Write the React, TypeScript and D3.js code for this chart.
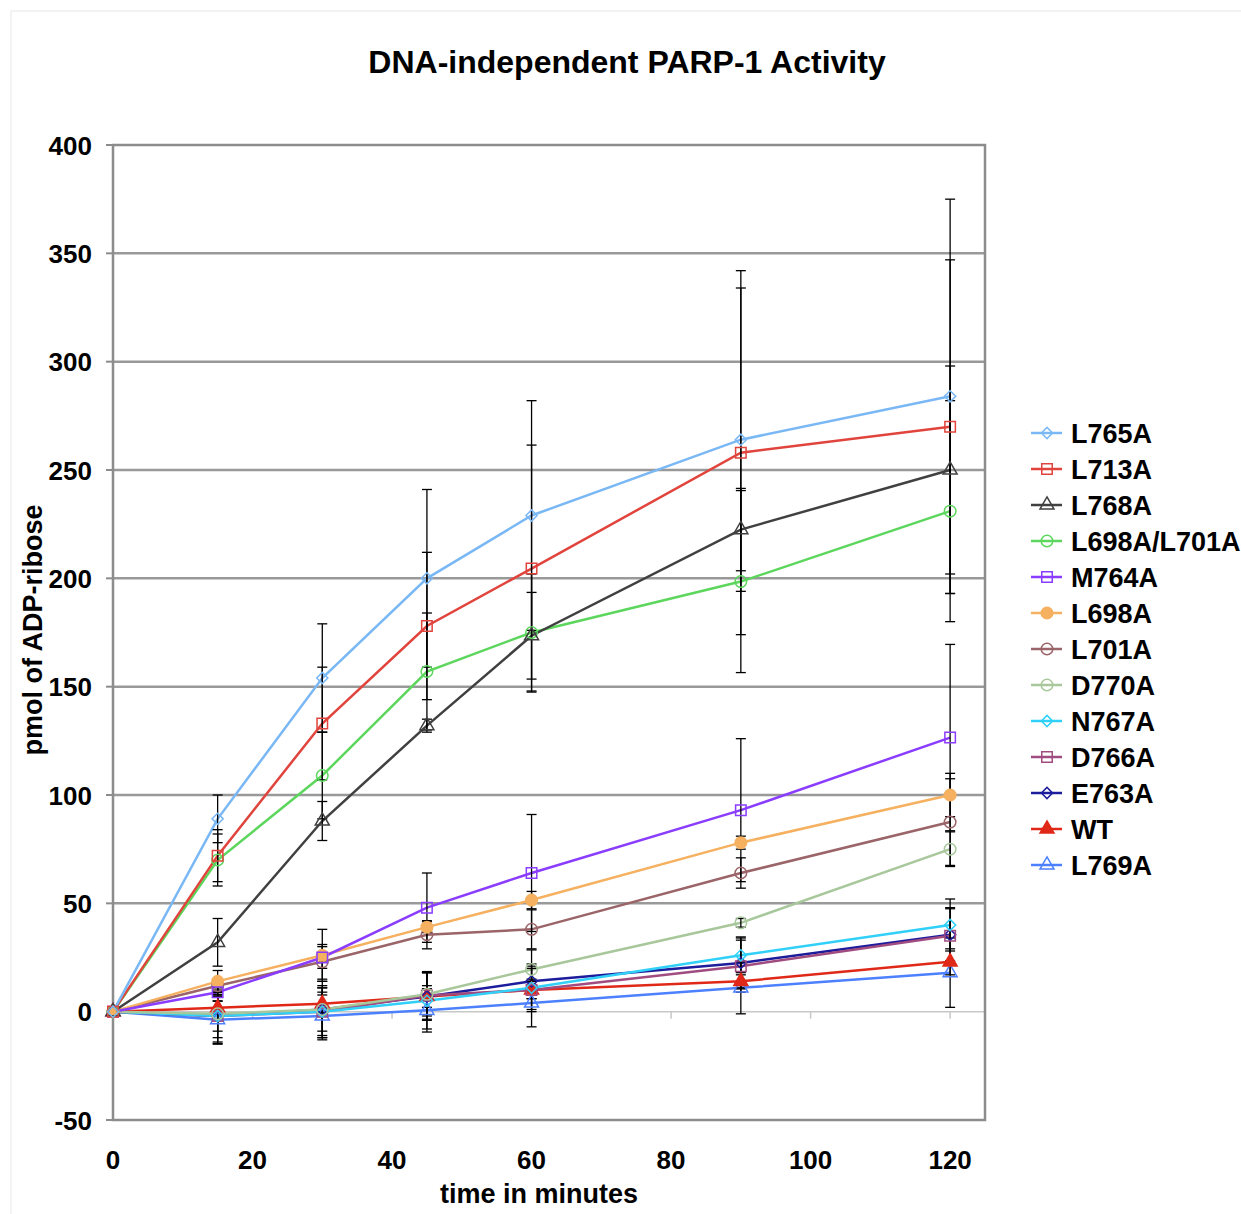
import React from "react";
import * as d3 from "d3";

// Sampling times (minutes)
const times = [0, 15, 30, 45, 60, 90, 120];

// Mean pmol ADP-ribose per construct
const L765A = [0, 89, 154, 200, 229, 264, 284];
const L713A = [0, 72, 133, 178, 204.5, 258, 270];
const L768A = [0, 32, 88, 132, 173.5, 222.5, 250];
const L698A_L701A = [0, 70, 109, 157, 175, 198.5, 231];
const M764A = [0, 9, 25, 48, 64, 93, 126.5];
const L698A = [0, 14, 26, 39, 51.5, 78, 100];
const L701A = [0, 12, 23, 35.5, 38, 64, 87.5];
const D770A = [0, -1, 1, 8, 19.5, 41, 75];
const N767A = [0, -2, 0, 5, 11, 26, 40];
const D766A = [0, -2, 0, 7.5, 10, 21, 35];
const E763A = [0, -2, 1, 7, 14, 22.5, 35.5];
const WT = [0, 1.8, 3.7, 7, 10, 14, 23];
const L769A = [0, -3.7, -2, 0.6, 4, 11, 18];

// Standard deviations (symmetric error bars)
const L765A_err = [0, 11, 25, 41, 53, 70, 91];
const L713A_err = [0, 12, 26, 34, 57, 84, 77];
const L768A_err = [0, 11, 9, 3, 20, 19, 48];
const L698A_L701A_err = [0, 12, 20, 27, 27, 42, 51];
const M764A_err = [0, 4, 5, 16, 27, 33, 43];
const L698A_err = [0, 5, 12, 2.5, 4, 3, 10];
const L701A_err = [0, 3, 8, 6.5, 9, 7, 20];
const D770A_err = [0, 8, 10, 10, 9, 2, 8];
const N767A_err = [0, 10, 11, 13, 10, 8, 12];
const D766A_err = [0, 12, 12, 11, 10, 12, 13];
const E763A_err = [0, 13, 13, 11, 8, 12, 12];
const WT_err = [0, 3, 4, 5, 4, 3, 6];
const L769A_err = [0, 11, 11, 10, 11, 12, 16];

const yTicks = [-50, 0, 50, 100, 150, 200, 250, 300, 350, 400];
const xTicks = [0, 20, 40, 60, 80, 100, 120];

type Shape = "diamond" | "square" | "triangle" | "circle";
interface Series {
  name: string;
  values: number[];
  err: number[];
  color: string;
  shape: Shape;
  filled: boolean;
}

const series: Series[] = [
  { name: "L765A", values: L765A, err: L765A_err, color: "#7ab8f5", shape: "diamond", filled: false },
  { name: "L713A", values: L713A, err: L713A_err, color: "#e0443c", shape: "square", filled: false },
  { name: "L768A", values: L768A, err: L768A_err, color: "#404040", shape: "triangle", filled: false },
  { name: "L698A/L701A", values: L698A_L701A, err: L698A_L701A_err, color: "#5cd65c", shape: "circle", filled: false },
  { name: "M764A", values: M764A, err: M764A_err, color: "#8a3cff", shape: "square", filled: false },
  { name: "L698A", values: L698A, err: L698A_err, color: "#f5b060", shape: "circle", filled: true },
  { name: "L701A", values: L701A, err: L701A_err, color: "#9a6468", shape: "circle", filled: false },
  { name: "D770A", values: D770A, err: D770A_err, color: "#a8c89c", shape: "circle", filled: false },
  { name: "N767A", values: N767A, err: N767A_err, color: "#30d0f8", shape: "diamond", filled: false },
  { name: "D766A", values: D766A, err: D766A_err, color: "#a04c80", shape: "square", filled: false },
  { name: "E763A", values: E763A, err: E763A_err, color: "#1c1c9c", shape: "diamond", filled: false },
  { name: "WT", values: WT, err: WT_err, color: "#e02818", shape: "triangle", filled: true },
  { name: "L769A", values: L769A, err: L769A_err, color: "#4c80ff", shape: "triangle", filled: false },
];

const FONT = "'Liberation Sans', Arial, Helvetica, sans-serif";

const plotLeft = 113;
const plotRight = 985;
const plotTop = 145;
const plotBottom = 1120;

const x = d3.scaleLinear().domain([0, 125]).range([plotLeft, plotRight]);
const y = d3.scaleLinear().domain([-50, 400]).range([plotBottom, plotTop]);

// diamonds are squares turned by 45 degrees
const symbolFor = (shape: Shape) => {
  switch (shape) {
    case "diamond":
      return d3.symbol().type(d3.symbolSquare).size(62);
    case "square":
      return d3.symbol().type(d3.symbolSquare).size(110);
    case "triangle":
      return d3.symbol().type(d3.symbolTriangle).size(85);
    default:
      return d3.symbol().type(d3.symbolCircle).size(105);
  }
};

function Marker({ s, cx, cy }: { s: Series; cx: number; cy: number }) {
  const d = symbolFor(s.shape)() || "";
  const rot = s.shape === "diamond" ? " rotate(45)" : "";
  return (
    <path
      d={d}
      transform={`translate(${cx},${cy})${rot}`}
      fill={s.filled ? s.color : "none"}
      stroke={s.color}
      strokeWidth={1.5}
    />
  );
}

export default function App() {
  const line = d3
    .line<number>()
    .x((_, i) => x(times[i]))
    .y((v) => y(v));

  const legendX = 1031;
  const legendY0 = 433;
  const legendStep = 36;

  return (
    <div style={{ position: "absolute", left: 0, top: 0 }}>
      <svg width={1241} height={1214} style={{ display: "block", background: "#fff" }}>
        <rect x={11} y={11} width={1240} height={1210} fill="#fff" stroke="#e8e8e8" strokeWidth={1} />

        <text x={627} y={73} textAnchor="middle" fontFamily={FONT} fontWeight="bold" fontSize={32} fill="#000">
          DNA-independent PARP-1 Activity
        </text>

        {/* horizontal gridlines */}
        {yTicks
          .filter((t) => t !== 0 && t !== -50 && t !== 400)
          .map((t) => (
            <line key={t} x1={plotLeft} x2={plotRight} y1={y(t)} y2={y(t)} stroke="#999" strokeWidth={2.5} />
          ))}

        {/* zero axis with time ticks */}
        <line x1={plotLeft} x2={plotRight} y1={y(0)} y2={y(0)} stroke="#c8c8c8" strokeWidth={1.5} />
        {xTicks.map((t) => (
          <line key={t} x1={x(t)} x2={x(t)} y1={y(0)} y2={y(0) + 7} stroke="#c8c8c8" strokeWidth={1.5} />
        ))}

        {/* plot frame */}
        <rect
          x={plotLeft}
          y={plotTop}
          width={plotRight - plotLeft}
          height={plotBottom - plotTop}
          fill="none"
          stroke="#8c8c8c"
          strokeWidth={2.5}
        />
        {yTicks.map((t) => (
          <line key={t} x1={plotLeft - 7} x2={plotLeft} y1={y(t)} y2={y(t)} stroke="#8c8c8c" strokeWidth={2} />
        ))}

        {/* y tick labels */}
        {yTicks.map((t) => (
          <text key={t} x={92} y={y(t) + 9.5} textAnchor="end" fontFamily={FONT} fontWeight="bold" fontSize={26}>
            {t}
          </text>
        ))}
        {/* x tick labels */}
        {xTicks.map((t) => (
          <text key={t} x={x(t)} y={1169} textAnchor="middle" fontFamily={FONT} fontWeight="bold" fontSize={26}>
            {t}
          </text>
        ))}

        <text x={539} y={1203} textAnchor="middle" fontFamily={FONT} fontWeight="bold" fontSize={27}>
          time in minutes
        </text>
        <text
          transform="translate(42,630) rotate(-90)"
          textAnchor="middle"
          fontFamily={FONT}
          fontWeight="bold"
          fontSize={27}
        >
          pmol of ADP-ribose
        </text>

        {/* series lines */}
        {[...series].reverse().map((s) => (
          <path key={s.name} d={line(s.values) || ""} fill="none" stroke={s.color} strokeWidth={2.5} />
        ))}

        {/* error bars */}
        {series.map((s) =>
          s.values.map((v, i) =>
            s.err[i] > 0 ? (
              <g key={`${s.name}-${i}`} stroke="#000" strokeWidth={1.3}>
                <line x1={x(times[i])} x2={x(times[i])} y1={y(v - s.err[i])} y2={y(v + s.err[i])} />
                <line x1={x(times[i]) - 5} x2={x(times[i]) + 5} y1={y(v + s.err[i])} y2={y(v + s.err[i])} />
                <line x1={x(times[i]) - 5} x2={x(times[i]) + 5} y1={y(v - s.err[i])} y2={y(v - s.err[i])} />
              </g>
            ) : null
          )
        )}

        {/* markers */}
        {[...series].reverse().map((s) =>
          s.values.map((v, i) => <Marker key={`${s.name}-m${i}`} s={s} cx={x(times[i])} cy={y(v)} />)
        )}

        {/* legend */}
        {series.map((s, i) => {
          const ly = legendY0 + i * legendStep;
          return (
            <g key={s.name}>
              <line x1={legendX} x2={legendX + 31} y1={ly} y2={ly} stroke={s.color} strokeWidth={2.5} />
              <Marker s={s} cx={legendX + 16} cy={ly} />
              <text x={1071} y={ly + 9.5} fontFamily={FONT} fontWeight="bold" fontSize={27}>
                {s.name}
              </text>
            </g>
          );
        })}
      </svg>
    </div>
  );
}
